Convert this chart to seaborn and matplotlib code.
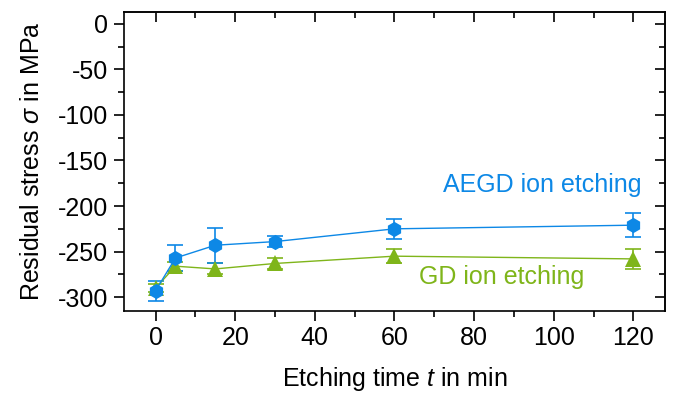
import matplotlib
matplotlib.use("Agg")
import matplotlib.pyplot as plt
import seaborn as sns
import pandas as pd
from matplotlib.ticker import MultipleLocator

# etching time in min
time_min = [0, 5, 15, 30, 60, 120]

# AEGD ion etching
aegd_stress = [-293, -257, -243, -239, -225, -221]
aegd_err = [11, 14, 19, 6, 11, 13]

# GD ion etching
gd_stress = [-290, -266, -269, -263, -255, -258]
gd_err = [4, 5, 6, 6, 8, 11]

blue = "#0d88e6"
green = "#7fb51a"

df = pd.concat([
    pd.DataFrame({"t": time_min, "s": aegd_stress, "e": aegd_err, "group": "AEGD"}),
    pd.DataFrame({"t": time_min, "s": gd_stress, "e": gd_err, "group": "GD"}),
])

sns.set_style("white")
plt.rcParams["font.family"] = ["Liberation Sans", "DejaVu Sans"]
plt.rcParams["mathtext.fontset"] = "custom"
plt.rcParams["mathtext.it"] = "Liberation Sans:italic"
plt.rcParams["axes.unicode_minus"] = False
plt.rcParams["text.color"] = "black"
plt.rcParams["axes.labelcolor"] = "black"
plt.rcParams["xtick.color"] = "black"
plt.rcParams["ytick.color"] = "black"

FS = 18

fig, ax = plt.subplots(figsize=(6.76, 3.97), dpi=100)
fig.subplots_adjust(left=0.183, right=0.984, bottom=0.217, top=0.970)

colors = {"GD": green, "AEGD": blue}
markers = {"GD": "^", "AEGD": "h"}
for name in ["GD", "AEGD"]:
    sub = df[df["group"] == name]
    ax.errorbar(sub["t"], sub["s"], yerr=sub["e"], fmt="none",
                ecolor=colors[name], elinewidth=1.2, capsize=6, capthick=1.2, zorder=2)
    sns.lineplot(data=sub, x="t", y="s", ax=ax, color=colors[name],
                 marker=markers[name], markersize=11, markeredgewidth=0,
                 linewidth=1, zorder=3)

ax.text(97, -177, "AEGD ion etching", color=blue, fontsize=FS, ha="center", va="center")
ax.text(87, -278, "GD ion etching", color=green, fontsize=FS, ha="center", va="center")

ax.set_xlim(-8, 128)
ax.set_ylim(-315, 13)
ax.xaxis.set_major_locator(MultipleLocator(20))
ax.xaxis.set_minor_locator(MultipleLocator(10))
ax.yaxis.set_major_locator(MultipleLocator(50))
ax.yaxis.set_minor_locator(MultipleLocator(25))

ax.set_xlabel("Etching time $t$ in min", fontsize=FS, labelpad=11)
ax.set_ylabel("Residual stress $\\sigma$ in MPa", fontsize=FS, labelpad=10)

for sp in ax.spines.values():
    sp.set_color("black")
    sp.set_linewidth(1.2)

ax.tick_params(which="both", bottom=True, left=True, top=False, right=False,
               color="black", width=1.2, direction="out")
ax.tick_params(which="major", labelsize=FS, length=7, pad=4)
ax.tick_params(which="minor", length=4)

# inward ticks on top and right
ax_top = ax.secondary_xaxis("top")
ax_top.xaxis.set_major_locator(MultipleLocator(20))
ax_top.xaxis.set_minor_locator(MultipleLocator(10))
ax_top.tick_params(which="both", direction="in", labeltop=False, width=1.2, color="black")
ax_top.tick_params(which="major", length=7)
ax_top.tick_params(which="minor", length=4)
ax_top.spines["top"].set_linewidth(1.2)
ax_right = ax.secondary_yaxis("right")
ax_right.yaxis.set_major_locator(MultipleLocator(50))
ax_right.yaxis.set_minor_locator(MultipleLocator(25))
ax_right.tick_params(which="both", direction="in", labelright=False, width=1.2, color="black")
ax_right.tick_params(which="major", length=7)
ax_right.tick_params(which="minor", length=4)
ax_right.spines["right"].set_linewidth(1.2)

ax.grid(False)
plt.savefig("out.png", dpi=100)
